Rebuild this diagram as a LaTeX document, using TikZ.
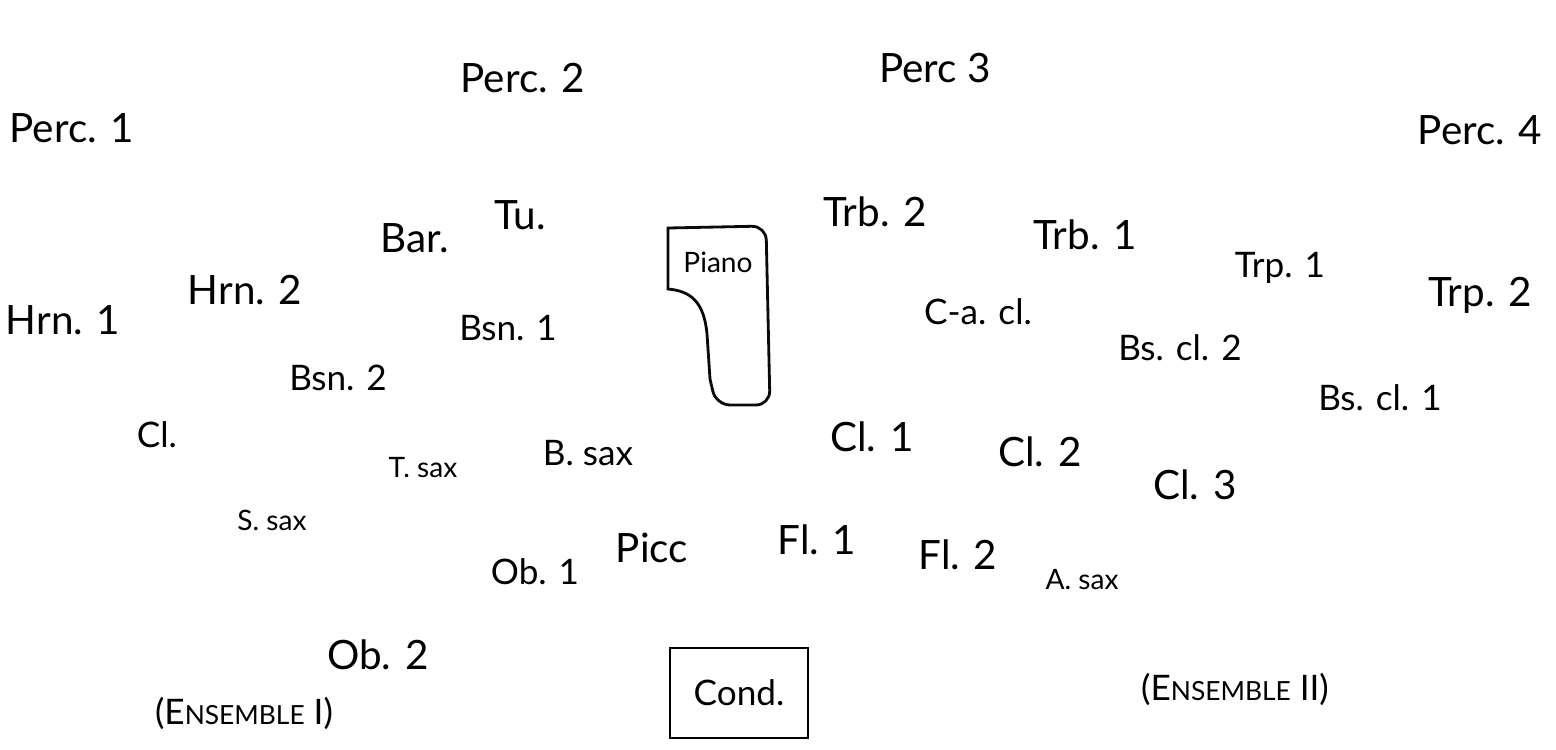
\documentclass[tikz,border=0pt]{standalone}
\usepackage{fontspec}
\setmainfont{Lato}
\begin{document}
\begin{tikzpicture}[
    every node/.style={font=\fontsize{10}{12}\selectfont, inner sep=1pt},
    part/.style={font=\fontsize{11.5}{14}\selectfont},
    smallpart/.style={font=\fontsize{8}{10}\selectfont},
    boxed/.style={draw, line width=0.8pt}
]

\definecolor{inkblack}{RGB}{10, 10, 10}

\useasboundingbox (0, 0) rectangle (15.56, 7.49);

% percussion
\node[part] (perc2) at (5.23, 6.71) {Perc. 2};
\node[part] (perc3) at (9.35, 6.81) {Perc 3};
\node[part] (perc1) at (0.72, 6.21) {Perc. 1};
\node[part] (perc4) at (14.80, 6.19) {Perc. 4};

% brass
\node[part] (tu)   at (5.20, 5.34) {Tu.};
\node[part] (trb2) at (8.75, 5.37) {Trb. 2};
\node[part] (trb1) at (10.85, 5.14) {Trb. 1};
\node[part] (bar)  at (4.15, 5.11) {Bar.};
\node[part] (hrn2) at (2.45, 4.59) {Hrn. 2};
\node[part] (hrn1) at (0.63, 4.29) {Hrn. 1};
\node (trp1) at (12.80, 4.81) {Trp. 1};
\node[part] (trp2) at (14.80, 4.54) {Trp. 2};

% woodwinds
\node (bsn1)  at (5.08, 4.21) {Bsn. 1};
\node (bsn2)  at (3.38, 3.71) {Bsn. 2};
\node (cacl)  at (9.78, 4.37) {C-a. cl.};
\node (bscl2) at (11.80, 4.01) {Bs. cl. 2};
\node (bscl1) at (13.80, 3.51) {Bs. cl. 1};
\node (clar)  at (1.57, 3.14) {Cl.};
\node[part] (cl1) at (8.72, 3.12) {Cl. 1};
\node[part] (cl2) at (10.40, 2.97) {Cl. 2};
\node[part] (cl3) at (11.95, 2.64) {Cl. 3};
\node (bsax)  at (5.88, 2.96) {B. sax};
\node[smallpart] (tsax) at (4.23, 2.81) {T. sax};
\node[smallpart] (ssax) at (2.72, 2.29) {S. sax};
\node[smallpart] (asax) at (10.82, 1.69) {A. sax};
\node[part] (picc) at (6.52, 2.01) {Picc};
\node[part] (fl1)  at (8.17, 2.09) {Fl. 1};
\node[part] (fl2)  at (9.58, 1.94) {Fl. 2};
\node (ob1)  at (5.35, 1.77) {Ob. 1};
\node[part] (ob2)  at (3.78, 0.94) {Ob. 2};

% piano
\draw[boxed, inkblack, rounded corners=4pt]
    (6.68, 5.21) -- (7.66, 5.23) -- (7.70, 3.44) -- (7.16, 3.44)
    [sharp corners] -- (7.10, 3.70) -- (7.07, 4.15)
    .. controls (7.04, 4.48) and (6.90, 4.58) .. (6.68, 4.60) -- cycle;
\node[smallpart] (piano) at (7.18, 4.87) {Piano};

% conductor
\node[boxed, minimum width=1.38cm, minimum height=0.90cm] (cond) at (7.39, 0.56) {Cond.};

\node (ens1) at (2.44, 0.36) {(E{\fontsize{7.5}{9}\selectfont NSEMBLE} I)};
\node (ens2) at (12.35, 0.60) {(E{\fontsize{7.5}{9}\selectfont NSEMBLE} II)};

\end{tikzpicture}
\end{document}
